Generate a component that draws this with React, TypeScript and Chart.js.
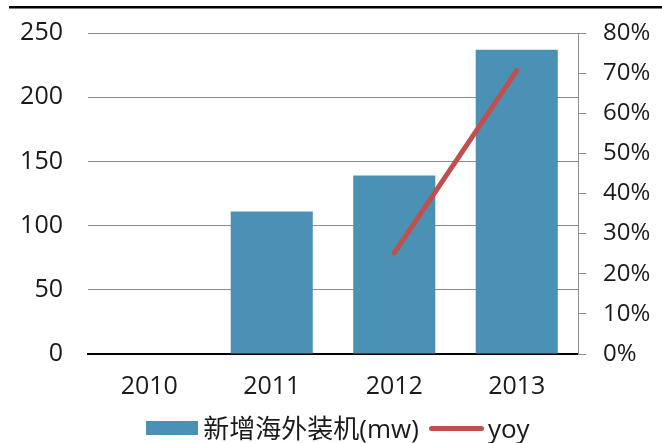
import React, { useEffect, useRef } from "react";
import { Chart, registerables } from "chart.js";

Chart.register(...registerables);

const categories = ["2010", "2011", "2012", "2013"];
const installedMw = [null, 111, 139, 237];
const yoyPct = [null, null, 25.2, 70.6];
const barLabel = "新增海外装机(mw)";
const lineLabel = "yoy";

const BAR_COLOR = "#4B91B5";
const LINE_COLOR = "#C0504D";
const TEXT_COLOR = "#1a1a1a";
const FONT = "'Open Sans', 'Noto Sans CJK SC', sans-serif";

const topRule = {
  id: "topRule",
  beforeDraw(chart: any) {
    const ctx = chart.ctx;
    ctx.save();
    ctx.fillStyle = "#000";
    ctx.fillRect(9, 6, chart.width - 9, 2.5);
    ctx.restore();
  },
};

export default function App() {
  const ref = useRef<HTMLCanvasElement | null>(null);
  useEffect(() => {
    document.body.style.margin = "0";
    const chart = new Chart(ref.current as HTMLCanvasElement, {
      type: "bar",
      data: {
        labels: categories,
        datasets: [
          {
            type: "bar",
            label: barLabel,
            data: installedMw as any,
            backgroundColor: BAR_COLOR,
            borderWidth: 0,
            barPercentage: 0.67,
            categoryPercentage: 1,
            yAxisID: "y",
            order: 2,
          },
          {
            type: "line",
            label: lineLabel,
            data: yoyPct as any,
            borderColor: LINE_COLOR,
            backgroundColor: LINE_COLOR,
            borderWidth: 5,
            borderCapStyle: "round",
            pointRadius: 0,
            pointHoverRadius: 0,
            yAxisID: "y1",
            order: 1,
          } as any,
        ],
      },
      options: {
        responsive: false,
        animation: false,
        layout: { padding: { top: 33, left: 0, right: 0, bottom: 49 } },
        plugins: {
          tooltip: { enabled: false },
          legend: { display: false },
        },
        scales: {
          x: {
            grid: { display: false, drawTicks: false },
            border: { display: true, color: "#000", width: 2 },
            ticks: {
              color: TEXT_COLOR,
              font: { family: FONT, size: 25 },
              padding: 18,
            },
            afterFit(scale: any) {
              scale.height = 40;
            },
          },
          y: {
            position: "left",
            min: 0,
            max: 250,
            ticks: {
              stepSize: 50,
              color: TEXT_COLOR,
              font: { family: FONT, size: 25 },
              padding: 3,
            },
            grid: {
              color: "#8c8c8c",
              lineWidth: 1,
              drawTicks: true,
              tickLength: 22,
              tickColor: "rgba(0,0,0,0)",
            },
            border: { display: false },
            afterFit(scale: any) {
              scale.width = 88;
            },
          },
          y1: {
            position: "right",
            min: 0,
            max: 80,
            ticks: {
              stepSize: 10,
              color: TEXT_COLOR,
              font: { family: FONT, size: 24 },
              padding: 17,
              callback: (v: any) => v + "%",
            },
            grid: {
              drawOnChartArea: false,
              drawTicks: true,
              tickLength: 8,
              color: "#8c8c8c",
            },
            border: { display: true, color: "#8c8c8c", width: 1 },
            afterFit(scale: any) {
              scale.width = 84;
            },
          },
        },
      },
      plugins: [topRule],
    });
    return () => chart.destroy();
  }, []);
  return (
    <div style={{ position: "relative", width: 662, height: 443 }}>
      <canvas ref={ref} width={662} height={443} style={{ display: "block" }} />
      <div
        style={{
          position: "absolute",
          left: 0,
          top: 413,
          width: 662,
          height: 30,
          display: "flex",
          justifyContent: "center",
          alignItems: "center",
          fontFamily: FONT,
          fontSize: 26,
          lineHeight: "30px",
          color: TEXT_COLOR,
          paddingLeft: 14,
          boxSizing: "border-box",
        }}
      >
        <span style={{ display: "inline-block", width: 52, height: 14, background: BAR_COLOR, marginRight: 5 }} />
        <span>{barLabel}</span>
        <span
          style={{
            display: "inline-block",
            width: 55,
            height: 5,
            borderRadius: 3,
            background: LINE_COLOR,
            marginLeft: 10,
            marginRight: 4,
          }}
        />
        <span>{lineLabel}</span>
      </div>
    </div>
  );
}
